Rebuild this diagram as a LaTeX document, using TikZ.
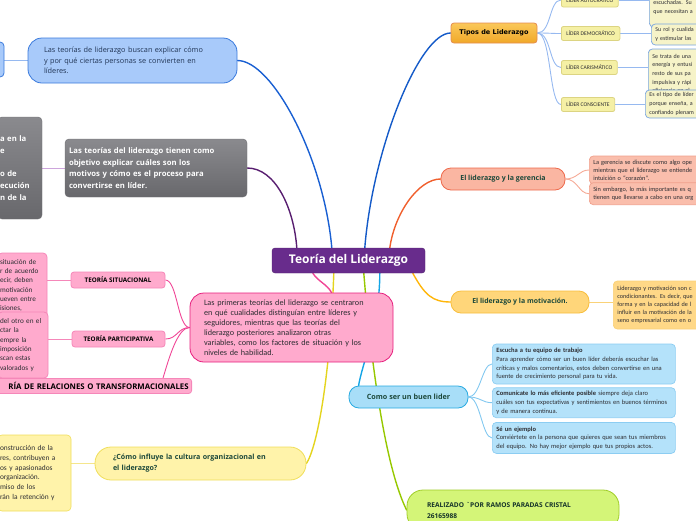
\documentclass[tikz,border=0pt]{standalone}
\usepackage{fontspec}
\setmainfont{Carlito}
\newfontfamily\hd{Open Sans}
\newfontfamily\vd{DejaVu Sans}
\usetikzlibrary{positioning,backgrounds}
\definecolor{rootc}{RGB}{104,44,140}
\definecolor{bluefill}{RGB}{168,202,250}
\definecolor{blueedge}{RGB}{58,122,220}
\definecolor{bluetext}{RGB}{32,52,84}
\definecolor{blueline}{RGB}{25,95,210}
\definecolor{bluetwig}{RGB}{150,185,240}
\definecolor{greytop}{RGB}{138,138,142}
\definecolor{greybot}{RGB}{104,104,108}
\definecolor{greyedge}{RGB}{110,110,114}
\definecolor{plumline}{RGB}{88,30,112}
\definecolor{plumtwig}{RGB}{205,165,220}
\definecolor{pinkfill}{RGB}{255,170,205}
\definecolor{pinkedge}{RGB}{230,30,125}
\definecolor{pinkline}{RGB}{240,70,150}
\definecolor{pinktwig}{RGB}{245,135,185}
\definecolor{yelfill}{RGB}{255,243,170}
\definecolor{yeledge}{RGB}{240,222,90}
\definecolor{yelline}{RGB}{228,212,30}
\definecolor{yeltwig}{RGB}{245,230,140}
\definecolor{limefill}{RGB}{212,245,120}
\definecolor{limeedge}{RGB}{160,205,40}
\definecolor{limeline}{RGB}{150,200,0}
\definecolor{skyfill}{RGB}{168,222,248}
\definecolor{skyedge}{RGB}{40,170,225}
\definecolor{skyleaf}{RGB}{180,226,250}
\definecolor{skyleafedge}{RGB}{140,205,242}
\definecolor{skyline}{RGB}{20,165,230}
\definecolor{skytwig}{RGB}{130,200,240}
\definecolor{coralfill}{RGB}{250,182,162}
\definecolor{coraledge}{RGB}{238,105,75}
\definecolor{coralleaf}{RGB}{250,190,172}
\definecolor{coralleafedge}{RGB}{240,160,140}
\definecolor{coralline}{RGB}{240,95,45}
\definecolor{coraltwig}{RGB}{245,170,150}
\definecolor{goldfill}{RGB}{255,214,122}
\definecolor{goldedge}{RGB}{248,190,60}
\definecolor{goldleaf}{RGB}{255,216,135}
\definecolor{goldline}{RGB}{255,182,10}
\definecolor{goldtwig}{RGB}{250,210,120}
\definecolor{typetop}{RGB}{250,200,90}
\definecolor{typebot}{RGB}{240,168,40}
\definecolor{typeedge}{RGB}{228,140,80}
\definecolor{typeline}{RGB}{20,90,200}
\definecolor{kindfill}{RGB}{245,240,165}
\definecolor{kindedge}{RGB}{220,212,130}
\definecolor{kindnotefill}{RGB}{246,243,200}
\definecolor{kindnoteedge}{RGB}{120,165,225}
\definecolor{headtext}{RGB}{28,72,58}
\definecolor{darktext}{RGB}{45,45,50}
\newcommand{\fsz}[2]{\fontsize{#1}{#2}\selectfont}

\begin{document}
\begin{tikzpicture}[x=1pt,y=-1pt,
  root/.style={fill=rootc,draw=rootc!80!black,rounded corners=3pt,text=white,font=\hd\bfseries\fsz{12}{14},minimum width=153pt,minimum height=25pt,inner sep=0pt},
  bluebox/.style={fill=bluefill,draw=blueedge,line width=0.8pt,rounded corners=14pt,text=bluetext,align=left,font=\hd\fsz{7.3}{10.5},inner xsep=16pt,inner ysep=0pt},
  greybox/.style={top color=greytop,bottom color=greybot,draw=greyedge,rounded corners=4pt,text=white,align=left,font=\hd\bfseries\fsz{7.7}{11.7},inner xsep=4pt,inner ysep=0pt},
  pinkbox/.style={fill=pinkfill,draw=pinkedge,line width=0.8pt,rounded corners=14pt,text=darktext,align=left,font=\fsz{8.2}{10},inner xsep=14pt,inner ysep=0pt},
  pinktag/.style={fill=pinkfill,draw=pinktwig,line width=0.8pt,rounded corners=3pt,text=black,font=\hd\bfseries\fsz{6.3}{8},minimum height=16pt,inner sep=0pt},
  pinknote/.style={fill=pinkfill,draw=pinktwig,line width=0.8pt,rounded corners=4pt,text=darktext,align=left,font=\fsz{7.2}{9.3},inner xsep=2pt,inner ysep=0pt},
  yelbox/.style={fill=yelfill,draw=yeledge,line width=0.8pt,rounded corners=16pt,text=headtext,align=left,font=\hd\bfseries\fsz{7.1}{11},inner xsep=18pt,inner ysep=0pt},
  yelnote/.style={fill=yelfill,draw=yeledge,line width=0.6pt,rounded corners=4pt,text=darktext,align=left,font=\fsz{7.4}{9.8},inner xsep=2pt,inner ysep=0pt},
  typebox/.style={top color=typetop,bottom color=typebot,draw=typeedge,line width=0.8pt,rounded corners=3pt,text=black,font=\vd\bfseries\fsz{6.5}{8},inner sep=0pt},
  kind/.style={fill=kindfill,draw=kindedge,line width=0.8pt,rounded corners=2pt,text=darktext,font=\fsz{5.6}{7},minimum height=14pt,inner xsep=5pt,inner ysep=0pt},
  kindnote/.style={fill=kindnotefill,draw=kindnoteedge,line width=0.7pt,rounded corners=4pt,text=darktext,align=left,font=\fsz{6}{8.7},text width=80pt,inner xsep=4pt,inner ysep=0pt},
  gerbox/.style={fill=coralfill,draw=coraledge,line width=0.8pt,rounded corners=10pt,text=headtext,font=\hd\bfseries\fsz{7}{9},inner sep=0pt},
  gernote/.style={fill=coralleaf,draw=coralleafedge,line width=0.7pt,rounded corners=4pt,text=darktext,align=left,font=\fsz{6.3}{8},text width=130pt,inner xsep=4pt,inner ysep=0pt},
  motbox/.style={fill=goldfill,draw=goldedge,line width=0.8pt,rounded corners=10pt,text=headtext,font=\hd\bfseries\fsz{6.9}{9},inner sep=0pt},
  motnote/.style={fill=goldleaf,draw=goldedge!70,line width=0.7pt,rounded corners=4pt,text=darktext,align=left,font=\fsz{6.2}{8},text width=110pt,inner xsep=4pt,inner ysep=0pt},
  howbox/.style={fill=skyfill,draw=skyedge,line width=0.8pt,rounded corners=10pt,text=headtext,font=\hd\bfseries\fsz{7.2}{9},inner sep=0pt},
  hownote/.style={fill=skyleaf,draw=skyleafedge,line width=0.7pt,rounded corners=4pt,text=darktext,align=left,font=\fsz{6.5}{8.6},text width=175pt,inner xsep=4pt,inner ysep=0pt},
  credit/.style={fill=limefill,draw=limeedge,line width=0.8pt,rounded corners=16pt,text=headtext!70!black,align=left,font=\hd\bfseries\fsz{6.6}{11},inner xsep=20pt,inner ysep=0pt},
  branch/.style={line width=1.4pt,line cap=round},
  twig/.style={line width=0.9pt}]
  \useasboundingbox (0,0) rectangle (696,520);
  \clip (0,0) rectangle (696,520);
  % centre
  \node[root] (root) at (348.5,260.5) {Teoría del Liderazgo};
  % left side
  \node[bluebox,text width=177pt,minimum height=45pt] (theo) at (132.5,60.5) {Las teorías de liderazgo buscan explicar cómo\\y por qué ciertas personas se convierten en\\líderes.};
  \node[bluebox,minimum width=14pt,minimum height=35pt,inner xsep=0pt,rounded corners=4pt] (theoleft) at (-3,59.5) {};
  \node[greybox,text width=174pt,minimum height=58pt] (motive) at (156,168) {Las teorías del liderazgo tienen como\\objetivo explicar cuáles son los\\motivos y cómo es el proceso para\\convertirse en líder.};
  \node[greybox,text width=40pt,inner xsep=2pt,minimum height=102pt] (motiveleft) at (20,168) {a en la\\e\\\mbox{}\\o de\\ecución\\n de la};
  \node[pinkbox,text width=175pt,minimum height=69pt] (early) at (291.5,327.5) {Las primeras teorías del liderazgo se centraron\\en qué cualidades distinguían entre líderes y\\seguidores, mientras que las teorías del\\liderazgo posteriores analizaron otras\\variables, como los factores de situación y los\\niveles de habilidad.};
  \node[pinktag,minimum width=94pt] (sit) at (118,280) {TEORÍA SITUACIONAL};
  \node[pinktag,minimum width=93pt] (part) at (118.5,339) {TEORÍA PARTICIPATIVA};
  \node[pinknote,text width=45pt,minimum height=65pt] (sit-leaf) at (22.5,285.5) {situación de\\r de acuerdo\\ecir, deben\\motivación\\ueven entre\\isiones,};
  \node[pinknote,text width=46pt,minimum height=66pt] (part-leaf) at (23,345) {del otro en el\\ctar la\\empre la\\imposición\\scan estas\\valorados y};
  \node[pinktag,text width=200pt,align=right,inner xsep=3pt,anchor=east,minimum height=15pt,font=\hd\bfseries\fsz{7.8}{9}] (rel) at (192,386) {RÍA DE RELACIONES O TRANSFORMACIONALES};
  \node[yelbox,text width=175pt,minimum height=33pt] (culture) at (200.5,463.5) {¿Cómo influye la cultura organizacional en\\el liderazgo?};
  \node[yelnote,text width=69pt,minimum height=76pt] (culture-leaf) at (34.5,473) {onstrucción de la\\res, contribuyen a\\os y apasionados\\organización.\\miso de los\\rán la retención y};
  % right side
  \node[typebox,minimum width=86pt,minimum height=20pt] (types) at (494,33) {Tipos de Liderazgo};
  \node[kind,anchor=west] (auto) at (561,0) {LÍDER AUTOCRÁTICO};
  \node[kind,anchor=west] (demo) at (561,33.5) {LÍDER DEMOCRÁTICO};
  \node[kind,anchor=west] (caris) at (561,67.5) {LÍDER CARISMÁTICO};
  \node[kind,anchor=west] (consc) at (561,104.5) {LÍDER CONSCIENTE};
  \node[kindnote,anchor=west,minimum height=39pt] (auto-leaf) at (649,7.5) {escuchadas. Su\\que necesitan a};
  \node[kindnote,anchor=west,minimum height=21pt] (demo-leaf) at (651,34.5) {Su rol y cualida\\y estimular las};
  \node[kindnote,anchor=west,minimum height=49pt] (caris-leaf) at (648,73.5) {Se trata de una\\energía y entusi\\resto de sus pa\\impulsiva y rápi\\eficiencia en el};
  \node[kindnote,anchor=west,minimum height=28pt] (consc-leaf) at (645,104) {Es el tipo de líder\\porque enseña, a\\confiando plenam};
  \node[gerbox,minimum width=124pt,minimum height=22pt] (manage) at (503,179) {El liderazgo y la gerencia};
  \node[gernote,anchor=west,minimum height=28pt] (manage-a) at (589,170) {La gerencia se discute como algo ope\\mientras que el liderazgo se entiende\\intuición o “corazón”.};
  \node[gernote,below=-2pt of manage-a,minimum height=22pt] (manage-b) {Sin embargo, lo más importante es q\\tienen que llevarse a cabo en una org};
  \node[motbox,minimum width=138pt,minimum height=22pt] (drive) at (520,302) {El liderazgo y la motivación.};
  \node[motnote,anchor=west,minimum height=48pt] (drive-leaf) at (613,305) {Liderazgo y motivación son c\\condicionantes. Es decir, que\\forma y en la capacidad de l\\influir en la motivación de la\\seno empresarial como en o};
  \node[howbox,minimum width=119pt,minimum height=22pt] (good) at (408.5,397) {Como ser un buen lider};
  \node[hownote,anchor=west,minimum height=40pt] (tip-a) at (492,364) {\textbf{Escucha a tu equipo de trabajo}\\Para aprender cómo ser un buen líder deberás escuchar las\\críticas y malos comentarios, estos deben convertirse en una\\fuente de crecimiento personal para tu vida.};
  \node[hownote,below=3pt of tip-a,minimum height=30pt] (tip-b) {\textbf{Comunícate lo más eficiente posible} siempre deja claro\\cuáles son tus expectativas y sentimientos en buenos términos\\y de manera continua.};
  \node[hownote,below=4pt of tip-b,minimum height=31pt] (tip-c) {\textbf{Sé un ejemplo}\\Conviértete en la persona que quieres que sean tus miembros\\del equipo. No hay mejor ejemplo que tus propios actos.};
  \node[credit,text width=172pt,minimum height=40pt] (author) at (513,510) {REALIZADO \textasciigrave POR RAMOS PARADAS CRISTAL\\26165988};
  \begin{scope}[on background layer]
    % main branches
    \draw[branch,plumline] (motive.east) .. controls +(28,0) and +(-3,-40) .. ([xshift=25pt]root.north west);
    \draw[branch,blueline] (theo.east) .. controls +(35,0) and +(-8,-90) .. ([xshift=60pt]root.north west);
    \draw[branch,typeline] (types.west) .. controls +(-31,0) and +(8,-100) .. ([xshift=93pt]root.north west);
    \draw[branch,coralline] (manage.west) .. controls +(-22,0) and +(5,-35) .. ([xshift=118pt]root.north west);
    \draw[branch,goldline] ([xshift=141pt]root.south west) .. controls +(12,22) and +(-18,0) .. (drive.west);
    \draw[branch,pinkline] ([xshift=41pt]root.south west) .. controls +(5,8) and +(-4,-8) .. ([xshift=40pt]early.north);
    \draw[branch,yelline] ([xshift=62pt]root.south west) .. controls +(-4,110) and +(10,-15) .. (culture.east);
    \draw[branch,limeline] ([xshift=92pt]root.south west) .. controls +(8,100) and +(-20,-40) .. (author.west);
    \draw[branch,skyline] ([xshift=108pt]root.south west) .. controls +(0,50) and +(3,-20) .. ([xshift=10pt]good.north west);
    % sub branches
    \draw[twig,bluetwig] (theo.west) -- (theo.west -| theoleft.east);
    \draw[twig,plumtwig] (motive.west) -- (motive.west -| motiveleft.east);
    \draw[twig,pinkline] (early.west) .. controls +(-12,0) and +(12,0) .. (sit.east);
    \draw[twig,pinkline] (early.west) .. controls +(-12,0) and +(12,0) .. (part.east);
    \draw[twig,pinkline] (early.west) .. controls +(-12,0) and +(6,-20) .. ([xshift=-29pt]rel.north east);
    \draw[twig,pinktwig] (sit.west) -- (sit.west -| sit-leaf.east);
    \draw[twig,pinktwig] (part.west) -- (part.west -| part-leaf.east);
    \draw[twig,yeltwig] (culture.west) -- (culture.west -| culture-leaf.east);
    \foreach \k in {auto,demo,caris,consc} {
      \draw[twig,bluetwig] (types.east) .. controls +(14,0) and +(-12,0) .. (\k.west);
      \draw[twig,bluetwig] (\k.east) -- (\k.east -| \k-leaf.west);
    }
    \foreach \k in {manage-a,manage-b}
      \draw[twig,coraltwig] (manage.east) .. controls +(12,0) and +(-10,0) .. (\k.west);
    \draw[twig,goldtwig] (drive.east) -- (drive.east -| drive-leaf.west);
    \foreach \k in {tip-a,tip-b,tip-c}
      \draw[twig,skytwig] (good.east) .. controls +(12,0) and +(-10,0) .. (\k.west);
  \end{scope}
\end{tikzpicture}
\end{document}
